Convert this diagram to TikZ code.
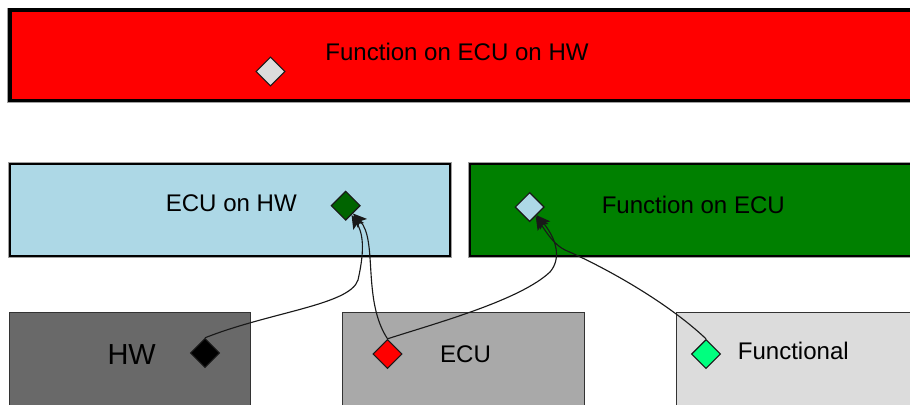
\documentclass[tikz,border=0pt]{standalone}
\usepackage{fontspec}
\setmainfont{Liberation Sans}
\usepackage{xcolor}
\usetikzlibrary{shapes,positioning,arrows.meta}

\definecolor{hwgray}{HTML}{696969}
\definecolor{ecugray}{HTML}{A9A9A9}
\definecolor{funcgray}{HTML}{DCDCDC}
\definecolor{ecuhwblue}{HTML}{ADD8E6}
\definecolor{fecugreen}{HTML}{008000}
\definecolor{portgreen}{HTML}{006400}
\definecolor{springgreen}{HTML}{00FF7F}
\definecolor{rimgray}{HTML}{A0A0A0}

\begin{document}
\begin{tikzpicture}[x=0.025cm, y=-0.025cm,
    top layer/.style={rectangle, draw=black, line width=2.5pt, preaction={draw=rimgray, line width=3.9pt}},
    mid layer/.style={rectangle, draw=black, line width=1.6pt, preaction={draw=rimgray, line width=2.6pt}},
    base layer/.style={rectangle, draw=black!80, line width=0.7pt},
    port/.style={diamond, draw=black!90, line width=0.85pt, inner sep=0pt, minimum size=0.73cm},
    layername/.style={inner sep=0pt, font=\fontsize{17.1}{20}\selectfont},
    link/.style={-{Stealth[length=9.5pt, width=9pt, inset=2pt]}, line width=0.8pt, draw=black!90}]

    % Visible area
    \clip (0,0) rectangle (910,404);

    % Function on ECU on HW
    \node[top layer, fill=red, minimum width=23cm, minimum height=2.25cm] (fowh) at (470,55.25) {};
    \node[layername] (fowh-name) at (457,52) {Function on ECU on HW};
    \node[port, fill=funcgray] (fowh-port) at (270.5,71.5) {};

    % ECU on HW
    \node[mid layer, fill=ecuhwblue, minimum width=10.99cm, minimum height=2.29cm] (ecuhw) at (230,210) {};
    \node[layername] (ecuhw-name) at (231.3,203) {ECU on HW};
    \node[port, fill=portgreen] (ecuhw-port) at (345.7,205.7) {};

    % Function on ECU
    \node[mid layer, fill=fecugreen, minimum width=11.5cm, minimum height=2.29cm] (fecu) at (700,210) {};
    \node[layername] (fecu-name) at (693.3,204.5) {Function on ECU};
    \node[port, fill=ecuhwblue] (fecu-port) at (529.7,207) {};

    % Base layers
    \node[base layer, fill=hwgray, minimum width=6.025cm, minimum height=2.5cm] (hw) at (130,362.5) {};
    \node[layername, font=\fontsize{20.6}{24}\selectfont] (hw-name) at (131.7,354.7) {HW};
    \node[port, fill=black] (hw-port) at (205,353) {};

    \node[base layer, fill=ecugray, minimum width=6.05cm, minimum height=2.5cm] (ecu) at (463.5,362.5) {};
    \node[layername] (ecu-name) at (465.5,354.5) {ECU};
    \node[port, fill=red] (ecu-port) at (387.5,354) {};

    \node[base layer, fill=funcgray, minimum width=6.34cm, minimum height=2.5cm] (func) at (803.25,362.5) {};
    \node[layername] (func-name) at (793.3,350.5) {Functional};
    \node[port, fill=springgreen] (func-port) at (706,354) {};

    % Connections
    \draw[link] (hw-port.north) .. controls (270,312) and (350,305) .. (358,280)
        .. controls (362,262) and (366,238) .. (ecuhw-port);
    \draw[link] (ecu-port.north) .. controls (362,300) and (378,240) .. (ecuhw-port);
    \draw[link] (ecu-port.north) .. controls (440,322) and (520,300) .. (550,272)
        .. controls (562,258) and (556,238) .. (fecu-port);
    \draw[link] (func-port.north) .. controls (665,300) and (600,265) .. (565,250)
        .. controls (555,245) and (548,235) .. (fecu-port);
\end{tikzpicture}
\end{document}
